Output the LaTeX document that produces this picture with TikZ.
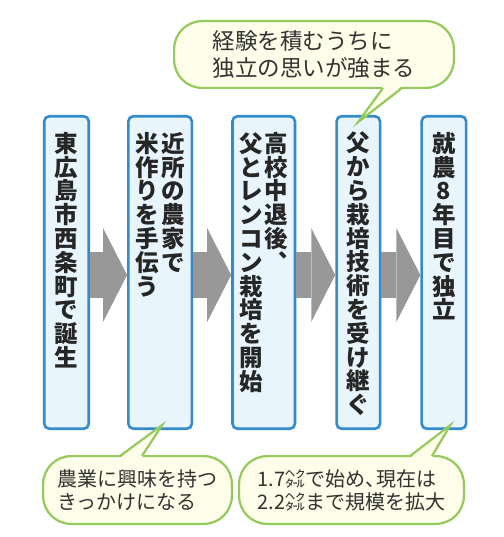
\documentclass[tikz,border=0pt]{standalone}
\usepackage{fontspec}
\setmainfont{Noto Sans CJK JP}
\usetikzlibrary{positioning,arrows.meta,calc}

\definecolor{stageline}{RGB}{52,138,202}
\definecolor{stagefill}{RGB}{232,245,253}
\definecolor{noteline}{RGB}{148,201,92}
\definecolor{notefill}{RGB}{253,253,233}
\definecolor{flowgray}{RGB}{152,152,152}
\definecolor{inkgray}{RGB}{50,50,50}

% one column of vertical text, one character per line
\makeatletter
\newcommand\tatecol[1]{\vtop{\baselineskip=23.8pt\lineskiplimit=-50pt
  \@tfor\tch:=#1\do{\hbox to 24pt{\hss\tch\hss}}}}
\makeatother

\begin{document}
\begin{tikzpicture}[
        x=1pt, y=1pt,
        text=inkgray,
        stage/.style={rectangle, rounded corners=5pt, draw=stageline, fill=stagefill,
                      line width=2.6pt, minimum height=312.5pt, inner sep=0pt},
        coltext/.style={inner sep=0pt, text=black!85, font=\fontsize{23.5}{23.8}\selectfont\bfseries},
        flow/.style={draw=flowgray, line width=46pt,
                     -{Triangle[length=24pt, width=94pt, line width=0pt]}},
        note/.style={rectangle, rounded corners=28pt, draw=noteline, fill=notefill,
                     line width=2.2pt, align=left, inner sep=0pt, minimum height=67.8pt},
        tail/.style={draw=noteline, line width=2.2pt, line join=miter},
    ]
        \useasboundingbox (0,0) rectangle (503,-537);

        % stages
        \node[stage, minimum width=44.5pt] (b1) at (66.5,-272.5) {};
        \node[stage, minimum width=63.5pt, right=37pt of b1] (b2) {};
        \node[stage, minimum width=62.5pt, right=38pt of b2] (b3) {};
        \node[stage, minimum width=43.5pt, right=39pt of b3] (b4) {};
        \node[stage, minimum width=44.5pt, right=39pt of b4] (b5) {};

        \node[coltext, below=17pt of b1.north] (t1) {\tatecol{東広島市西条町で誕生}};
        \node[coltext, below=17pt of b2.north] (t2) {\tatecol{米作りを手伝う}\hskip2pt\tatecol{近所の農家で}};
        \node[coltext, below=17pt of b3.north] (t3) {\tatecol{父とレンコン栽培を開始}\hskip1pt\tatecol{高校中退後︑}};
        \node[coltext, below=17pt of b4.north] (t4) {\tatecol{父から栽培技術を受け継ぐ}};
        \node[coltext, below=17pt of b5.north] (t5) {\tatecol{就農8年目で独立}};

        \draw[flow] ([yshift=-2.5pt]b1.east) -- ([yshift=-2.5pt]b2.west);
        \draw[flow] ([yshift=-2.5pt]b2.east) -- ([yshift=-2.5pt]b3.west);
        \draw[flow] ([yshift=-2.5pt]b3.east) -- ([yshift=-2.5pt]b4.west);
        \draw[flow] ([yshift=-2.5pt]b4.east) -- ([yshift=-2.5pt]b5.west);

        % speech bubbles
        \node[note, minimum width=279.8pt, minimum height=66.8pt,
              font=\fontsize{22.5}{27}\selectfont] (n1) at (314,-54.5)
              {経験を積むうちに\\独立の思いが強まる};
        \node[note, minimum width=188.8pt, font=\fontsize{20}{23}\selectfont] (n2) at (137.5,-490)
              {農業に興味を持つ\\きっかけになる};
        \node[note, minimum width=224.8pt, font=\fontsize{20}{23}\selectfont] (n3) at (351.5,-490)
              {1.7㌶で始め、\kern-.45em現在は\\2.2㌶まで規模を拡大};

        \coordinate (p1) at ($(b4.north)+(0,-7)$);
        \coordinate (p2) at ($(b2.south)+(2,5)$);
        \coordinate (p3) at ($(b5.south)+(6.5,5)$);

        \fill[notefill] ([xshift=69pt, yshift=3pt]n1.south) -- (p1) -- ([xshift=88pt, yshift=3pt]n1.south) -- cycle;
        \draw[tail] ([xshift=69pt, yshift=1pt]n1.south) -- (p1) -- ([xshift=88pt, yshift=1pt]n1.south);

        \fill[notefill] ([xshift=-17.5pt, yshift=-3pt]n2.north) -- (p2) -- ([xshift=4.5pt, yshift=-3pt]n2.north) -- cycle;
        \draw[tail] ([xshift=-17.5pt, yshift=-1pt]n2.north) -- (p2) -- ([xshift=4.5pt, yshift=-1pt]n2.north);

        \fill[notefill] ([xshift=58.5pt, yshift=-3pt]n3.north) -- (p3) -- ([xshift=80.5pt, yshift=-3pt]n3.north) -- cycle;
        \draw[tail] ([xshift=58.5pt, yshift=-1pt]n3.north) -- (p3) -- ([xshift=80.5pt, yshift=-1pt]n3.north);
    \end{tikzpicture}
\end{document}
